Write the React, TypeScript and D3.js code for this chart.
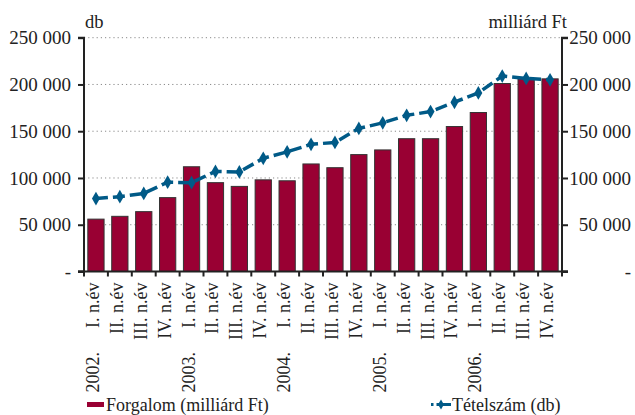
import { useEffect, useRef } from "react";
import * as d3 from "d3";

const years = ["2002.", "", "", "", "2003.", "", "", "", "2004.", "", "", "", "2005.", "", "", "", "2006.", "", "", ""];
const quarters = ["I. n.év", "II. n.év", "III. n.év", "IV. n.év"];
const categories = years.map((y, i) => ({ year: y, quarter: quarters[i % 4] }));

// Forgalom (milliárd Ft) - right axis
const forgalom = [56000, 59000, 64000, 79000, 112000, 95000, 91000, 98000, 97000, 115000, 111000, 125000, 130000, 142000, 142000, 155000, 170000, 201000, 206000, 206000];
// Tételszám (db) - left axis
const tetelszam = [78000, 80000, 83500, 95500, 95000, 107000, 106500, 121000, 128000, 136000, 138000, 153000, 159000, 167000, 171000, 181000, 191000, 209000, 206500, 205000];

const yTicks = [0, 50000, 100000, 150000, 200000, 250000];
const fmt = (v: number) => (v === 0 ? "-" : d3.format(",")(v).replace(/,/g, " "));

export default function App() {
  const svgRef = useRef<SVGSVGElement>(null);

  useEffect(() => {
    if (!svgRef.current) return;
    const W = 635;
    const H = 415;
    const margin = { top: 37.7, right: 73, bottom: 143.5, left: 84 };
    const width = W - margin.left - margin.right;
    const height = H - margin.top - margin.bottom;
    const font = "'Liberation Serif', 'Times New Roman', serif";

    const svg = d3.select(svgRef.current).attr("width", W).attr("height", H);
    svg.selectAll("*").remove();

    const g = svg.append("g").attr("transform", `translate(${margin.left},${margin.top})`);

    const idx = d3.range(categories.length);
    const x = d3.scaleBand<number>().domain(idx).range([0, width]).paddingInner(0.32).paddingOuter(0.16);
    const step = width / categories.length;
    const cx = (i: number) => x(i)! + x.bandwidth() / 2;
    const y = d3.scaleLinear().domain([0, 250000]).range([height, 0]);

    // Gridlines
    g.append("g")
      .selectAll("line")
      .data(yTicks.filter((t) => t > 0))
      .join("line")
      .attr("x1", 0)
      .attr("x2", width)
      .attr("y1", (d) => y(d))
      .attr("y2", (d) => y(d))
      .attr("stroke", "#8a8a8a")
      .attr("stroke-width", 1)
      .attr("stroke-dasharray", "1.2,3");

    // Bars
    g.append("g")
      .selectAll("rect")
      .data(forgalom)
      .join("rect")
      .attr("x", (_, i) => x(i)!)
      .attr("y", (d) => y(d))
      .attr("width", x.bandwidth())
      .attr("height", (d) => height - y(d))
      .attr("fill", "#990033")
      .attr("stroke", "#333")
      .attr("stroke-width", 1);

    // Line
    const line = d3
      .line<number>()
      .x((_, i) => cx(i))
      .y((d) => y(d));

    g.append("path")
      .datum(tetelszam)
      .attr("d", line)
      .attr("fill", "none")
      .attr("stroke", "#005a87")
      .attr("stroke-width", 3.5)
      .attr("stroke-dasharray", "12,5");

    const diamond = d3.symbol().type(d3.symbolDiamond).size(55);
    g.append("g")
      .selectAll("path")
      .data(tetelszam)
      .join("path")
      .attr("d", diamond)
      .attr("transform", (d, i) => `translate(${cx(i)},${y(d)})`)
      .attr("fill", "#005a87");

    // Left axis
    const leftAxis = d3.axisLeft(y).tickValues(yTicks).tickFormat((d) => fmt(+d)).tickSize(6).tickPadding(7);
    const la = g.append("g").call(leftAxis);
    la.select(".domain").attr("stroke", "#222").attr("stroke-width", 2).attr("d", `M-6,0H0V${height}H-6`);
    la.selectAll(".tick line").attr("stroke", "#222").attr("stroke-width", 2);
    la.selectAll(".tick text").style("font-family", font).style("font-size", "19px").attr("fill", "#222");

    // Right axis
    const rightAxis = d3.axisRight(y).tickValues(yTicks).tickFormat((d) => fmt(+d)).tickSize(6).tickPadding(8);
    const ra = g.append("g").attr("transform", `translate(${width},0)`).call(rightAxis);
    ra.select(".domain").attr("stroke", "#222").attr("stroke-width", 2).attr("d", `M6,0H0V${height}H6`);
    ra.selectAll(".tick line").attr("stroke", "#222").attr("stroke-width", 2);
    ra.selectAll(".tick text")
      .style("font-family", font)
      .style("font-size", "19px")
      .attr("fill", "#222")
      .attr("text-anchor", "end")
      .attr("x", 69);

    // Bottom axis: line + ticks at band boundaries
    g.append("line")
      .attr("x1", -6)
      .attr("x2", width + 6)
      .attr("y1", height)
      .attr("y2", height)
      .attr("stroke", "#222")
      .attr("stroke-width", 2);
    g.append("g")
      .selectAll("line")
      .data(d3.range(categories.length + 1))
      .join("line")
      .attr("x1", (i) => i * step)
      .attr("x2", (i) => i * step)
      .attr("y1", height)
      .attr("y2", height + 5)
      .attr("stroke", "#222")
      .attr("stroke-width", 2);

    // Category labels
    const labels = g
      .append("g")
      .selectAll("text")
      .data(categories)
      .join("text")
      .attr("transform", (_, i) => `translate(${cx(i) + 3},${height + 11}) rotate(-90)`)
      .attr("text-anchor", "end")
      .style("font-family", font)
      .style("font-size", "18px")
      .attr("fill", "#222");
    labels.each(function (d) {
      const t = d3.select(this);
      if (d.year) {
        t.append("tspan").text(d.year);
        t.append("tspan").attr("dx", 24).text(d.quarter);
      } else {
        t.append("tspan").text(d.quarter);
      }
    });

    // Axis titles
    svg
      .append("text")
      .attr("x", 85)
      .attr("y", 28)
      .style("font-family", font)
      .style("font-size", "18.5px")
      .attr("fill", "#222")
      .text("db");
    svg
      .append("text")
      .attr("x", 567)
      .attr("y", 28)
      .attr("text-anchor", "end")
      .style("font-family", font)
      .style("font-size", "18.5px")
      .attr("fill", "#222")
      .text("milliárd Ft");

    // Legend
    const lg = svg.append("g");
    lg.append("rect").attr("x", 87).attr("y", 402).attr("width", 17).attr("height", 5).attr("fill", "#990033");
    lg.append("text")
      .attr("x", 106)
      .attr("y", 411)
      .style("font-family", font)
      .style("font-size", "18px")
      .attr("fill", "#222")
      .text("Forgalom (milliárd Ft)");
    lg.append("line")
      .attr("x1", 431)
      .attr("x2", 451)
      .attr("y1", 404.5)
      .attr("y2", 404.5)
      .attr("stroke", "#005a87")
      .attr("stroke-width", 3)
      .attr("stroke-dasharray", "2.5,3,20");
    lg.append("path")
      .attr("d", d3.symbol().type(d3.symbolDiamond).size(30)())
      .attr("transform", "translate(441,404.5)")
      .attr("fill", "#005a87");
    lg.append("text")
      .attr("x", 452)
      .attr("y", 411)
      .style("font-family", font)
      .style("font-size", "18px")
      .attr("fill", "#222")
      .text("Tételszám (db)");
  }, []);

  return <svg ref={svgRef} style={{ position: "absolute", left: 0, top: 0, background: "#fff" }} />;
}
